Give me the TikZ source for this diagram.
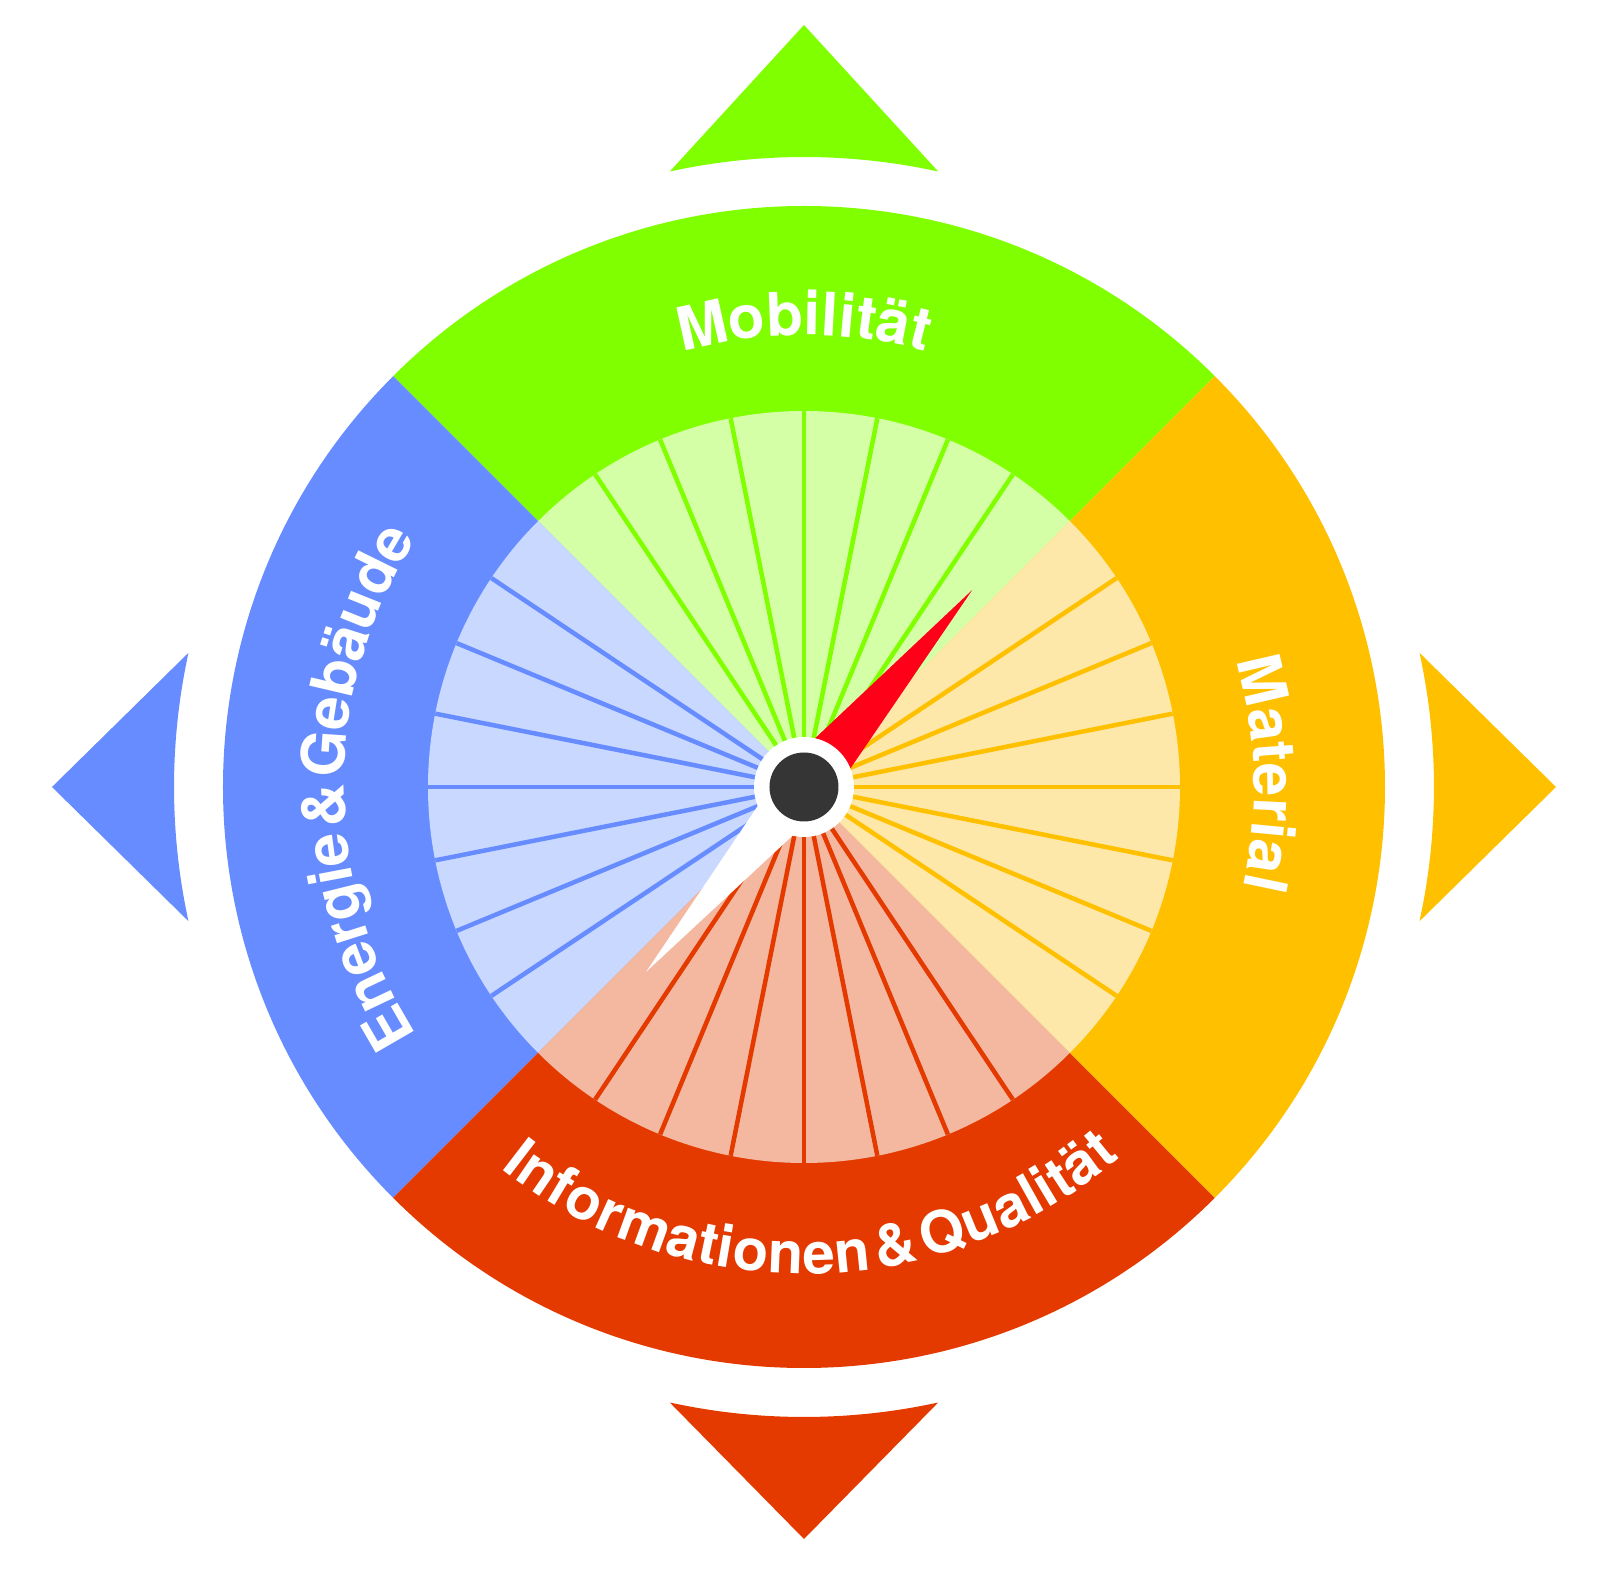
\documentclass[tikz,border=0pt]{standalone}
\usepackage{fontspec}
\newfontfamily\labfont{TeX Gyre Heros}
\usetikzlibrary{decorations.text}
\definecolor{cgreen}{HTML}{80FF00}
\definecolor{lgreen}{HTML}{D5FFA6}
\definecolor{corange}{HTML}{FFC000}
\definecolor{lorange}{HTML}{FDE8A9}
\definecolor{cred}{HTML}{E43A00}
\definecolor{lred}{HTML}{F4B8A1}
\definecolor{cblue}{HTML}{668CFF}
\definecolor{lblue}{HTML}{C9D8FF}
\definecolor{cneedle}{HTML}{FF0019}
\definecolor{chub}{HTML}{353535}
\tikzset{
  spoke/.style={line width=4.5pt},
  label/.style={decorate, decoration={text along path, text align=center, text color=white}},
  hubring/.style={circle, fill=white, inner sep=0pt, minimum size=100pt},
  hubcore/.style={circle, fill=chub, inner sep=0pt, minimum size=69pt}
}
\begin{document}
\begin{tikzpicture}[x=1pt,y=1pt]
\useasboundingbox (-804,-783) rectangle (805,787);
% direction triangles
\fill[cgreen] (90:762) -- (102.3:630) arc[start angle=102.3,end angle=77.7,radius=630] -- cycle;
\fill[corange] (0:752) -- (12.3:630) arc[start angle=12.3,end angle=-12.3,radius=630] -- cycle;
\fill[cred] (270:752) -- (282.3:630) arc[start angle=282.3,end angle=257.7,radius=630] -- cycle;
\fill[cblue] (180:752) -- (192.3:630) arc[start angle=192.3,end angle=167.7,radius=630] -- cycle;
% outer ring sectors
\fill[cgreen] (0,0) -- (45:581) arc[start angle=45,end angle=135,radius=581] -- cycle;
\fill[cblue] (0,0) -- (135:581) arc[start angle=135,end angle=225,radius=581] -- cycle;
\fill[cred] (0,0) -- (225:581) arc[start angle=225,end angle=315,radius=581] -- cycle;
\fill[corange] (0,0) -- (-45:581) arc[start angle=-45,end angle=45,radius=581] -- cycle;
% inner light sectors
\fill[lgreen] (0,0) -- (45:376) arc[start angle=45,end angle=135,radius=376] -- cycle;
\fill[lblue] (0,0) -- (135:376) arc[start angle=135,end angle=225,radius=376] -- cycle;
\fill[lred] (0,0) -- (225:376) arc[start angle=225,end angle=315,radius=376] -- cycle;
\fill[lorange] (0,0) -- (-45:376) arc[start angle=-45,end angle=45,radius=376] -- cycle;
% spokes
\foreach \c/\b in {corange/0,cgreen/90,cblue/180,cred/270}{
  \foreach \d in {-33.75,-22.5,-11.25,0,11.25,22.5,33.75}{
    \draw[spoke,\c] (0,0) -- (\b+\d:376);
  }
}
% needle
\fill[cneedle] (49.5:259) -- (139.5:28) -- (-40.5:28) -- cycle;
\fill[white] (229.5:243) -- (139.5:28) -- (-40.5:28) -- cycle;
% hub
\node[hubring] (hub) at (0,0) {};
\node[hubcore] (core) at (hub.center) {};
% labels
\path[label, decoration={raise=0pt, text={|\labfont\bfseries\fontsize{60}{64}\selectfont|Mobilität}}]
  (150:452) arc[start angle=150,end angle=30,radius=452];
\path[label, decoration={raise=5pt, text={|\labfont\bfseries\fontsize{60}{64}\selectfont|Material}}]
  (61.7:445) arc[start angle=61.7,end angle=-58.3,radius=445];
\path[label, decoration={raise=-8pt, text={|\labfont\bfseries\fontsize{60}{64}\selectfont|Energie{\kern6pt}{\&}{\kern6pt}Gebäude}}]
  (240:468) arc[start angle=240,end angle=120,radius=468];
\path[label, decoration={raise=-11pt, text={|\labfont\bfseries\fontsize{58}{62}\selectfont|Informationen{\kern6pt}{\&}{\kern6pt}Qualität}}]
  (211:476) arc[start angle=211,end angle=331,radius=476];
\end{tikzpicture}
\end{document}
